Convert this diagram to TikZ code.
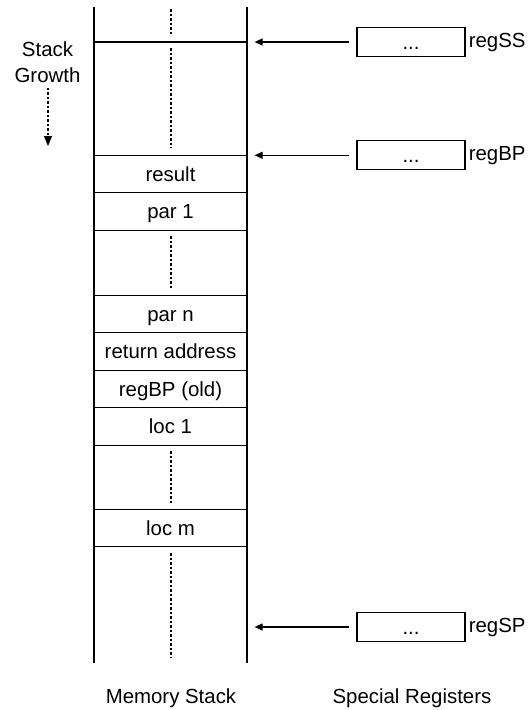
\documentclass[tikz,border=0pt]{standalone}
\usepackage{fontspec}
\setmainfont{Liberation Sans}
\usetikzlibrary{arrows.meta}
\tikzset{
	cellstyle/.style={rectangle,draw=black,line width=1.2pt,minimum width=153pt,minimum height=37.5pt,inner sep=0pt,text height=14pt,text depth=0pt},
	regstyle/.style={rectangle,draw=black,line width=1.2pt,minimum width=108pt,minimum height=29pt,inner sep=0pt,text height=14pt,text depth=0pt},
	labelstyle/.style={anchor=west,inner sep=0pt},
	wallstyle/.style={line width=1.2pt},
	dotstyle/.style={line width=1.1pt,dash pattern=on 2.5pt off 2pt},
	ptrstyle/.style={line width=1.2pt,-{Triangle[length=8pt,width=7pt]},shorten <=7pt,shorten >=7pt}
}

\begin{document}
\begin{tikzpicture}[x=1pt,y=-1pt,font=\fontsize{20.4}{26}\selectfont]
		\useasboundingbox (0,0) rectangle (530,710);
		% stack walls
		\draw[wallstyle] (94,7) -- (94,663);
		\draw[wallstyle] (247,7) -- (247,663);
		\draw[wallstyle] (94,42) -- (247,42);
		% frame cells
		\node[cellstyle] (result) at (170.5,174) {result};
		\node[cellstyle] (par1) at (170.5,211.5) {par 1};
		\node[cellstyle] (parn) at (170.5,314) {par n};
		\node[cellstyle] (ret) at (170.5,351.5) {return address};
		\node[cellstyle] (oldbp) at (170.5,389) {regBP (old)};
		\node[cellstyle] (loc1) at (170.5,426.5) {loc 1};
		\node[cellstyle] (locm) at (170.5,528) {loc m};
		% gaps
		\draw[dotstyle] (171,9) -- (171,36);
		\draw[dotstyle] (171,48) -- (171,148);
		\draw[dotstyle] (171,236) -- (171,288);
		\draw[dotstyle] (171,451) -- (171,503);
		\draw[dotstyle] (171,553) -- (171,658);
		% registers
		\node[regstyle] (ss) at (411,42) {...};
		\node[regstyle] (bp) at (411,155.25) {...};
		\node[regstyle] (sp) at (411,627) {...};
		\node[labelstyle] (sslabel) at ([xshift=3pt]ss.east) {regSS};
		\node[labelstyle] (bplabel) at ([xshift=3pt]bp.east) {regBP};
		\node[labelstyle] (splabel) at ([xshift=3pt]sp.east) {regSP};
		\draw[ptrstyle] (ss) -- (ss -| result.east);
		\draw[ptrstyle] (bp) -- (bp -| result.east);
		\draw[ptrstyle] (sp) -- (sp -| result.east);
		% growth direction
		\node[align=center,inner sep=0pt] (growth) at (47.5,62) {Stack\\Growth};
		\coordinate (growthend) at (48,146);
		\draw[dotstyle,-{Triangle[length=10pt,width=8pt]},shorten <=5pt] (growth.south -| growthend) -- (growthend);
		% captions
		\node (memlabel) at (171,698) {Memory Stack};
		\node (reglabel) at (412,698) {Special Registers};
\end{tikzpicture}
\end{document}
